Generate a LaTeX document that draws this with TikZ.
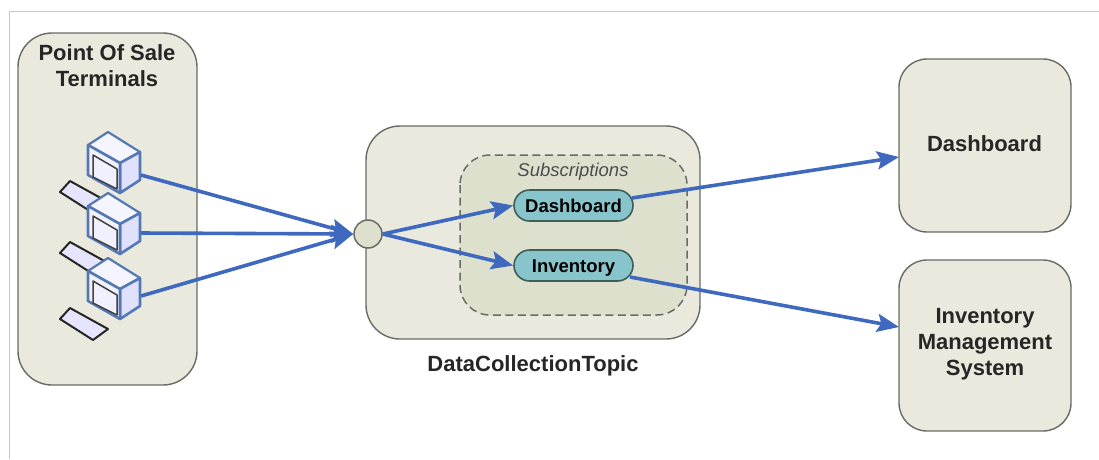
\documentclass[tikz,border=0pt]{standalone}
\usepackage{fontspec}
\setmainfont{Liberation Sans}
\usetikzlibrary{arrows.meta,shapes.misc}
\definecolor{panel}{RGB}{233,234,221}
\definecolor{subp}{RGB}{222,224,206}
\definecolor{edgegray}{RGB}{105,108,100}
\definecolor{pill}{RGB}{136,196,203}
\definecolor{pilledge}{RGB}{62,95,90}
\definecolor{arrowblue}{RGB}{62,105,190}
\definecolor{pcblue}{RGB}{84,120,180}
\definecolor{frameg}{RGB}{200,200,200}
\tikzset{
  panelbox/.style={draw=edgegray,line width=1.4pt,fill=panel,rounded corners=34pt,inner sep=0pt},
  pillbox/.style={rounded rectangle,draw=pilledge,line width=1.6pt,fill=pill,minimum width=119pt,minimum height=31pt,inner sep=0pt,text height=13.5pt,text depth=0pt,font=\fontsize{18.5}{20}\selectfont\bfseries},
  label/.style={font=\fontsize{22}{26}\selectfont\bfseries,align=center,text=black!85,inner sep=0pt},
  flow/.style={draw=arrowblue,line width=3.6pt,-{Stealth[length=22pt,width=18pt,inset=4pt]}}
}
\newcommand{\pcicon}[1]{%
  \begin{scope}[shift={(0,#1)}]
    \draw[pcblue,line width=2.2pt,line join=round,fill=blue!4!white] (88,145)--(108,132)--(140,152)--(120,163)--cycle;
    \draw[pcblue,line width=2.6pt,line join=round,fill=blue!12!white] (120,163)--(140,152)--(140,180)--(120,193)--cycle;
    \draw[pcblue,line width=2.6pt,line join=round,fill=blue!5!white] (88,145)--(120,163)--(120,193)--(88,175)--cycle;
    \draw[black!75,line width=1.5pt,line join=round,fill=blue!6!white] (93,155)--(117,169)--(117,189)--(93,177)--cycle;
  \end{scope}}
\newcommand{\kbicon}[1]{%
  \begin{scope}[shift={(0,#1)}]
  \draw[black!85,line width=2pt,line join=round,fill=blue!10!white] (60,319)--(70,308)--(108,329)--(93,340)--cycle;
  \end{scope}}
\begin{document}
\begin{tikzpicture}[x=1pt,y=-1pt]
\useasboundingbox (0,0) rectangle (1099,459);
\fill[white] (0,0) rectangle (1099,459);
\draw[frameg,line width=1.2pt] (9.5,459) -- (9.5,11.5) -- (1099,11.5);
% panels
\node[panelbox,minimum width=179pt,minimum height=352pt] (pos) at (107.5,209) {};
\node[panelbox,minimum width=334pt,minimum height=213pt] (topicbox) at (533,232.5) {};
\draw[edgegray,line width=1.5pt,dash pattern=on 8pt off 4.5pt,fill=subp,rounded corners=30pt] (460,155) rectangle (687,315);
\node[panelbox,rounded corners=28pt,minimum width=172pt,minimum height=173pt] (dashsys) at (985,145.5) {};
\node[panelbox,rounded corners=28pt,minimum width=172pt,minimum height=171pt] (invsys) at (985,345.5) {};
% texts
\node[label] (postext) at (107,66) {Point Of Sale\\Terminals};
\node[label] (dashtext) at (984.5,144) {Dashboard};
\node[label] (invtext) at (985,344) {Inventory\\Management\\System};
\node[label] (topictext) at (533,366) {DataCollectionTopic};
\node[inner sep=0pt,text=black!70,font=\fontsize{18.5}{20}\selectfont\itshape] (subtext) at (573,172) {Subscriptions};
% terminals
\kbicon{-127}
\pcicon{0}
\kbicon{-66}
\pcicon{61}
\kbicon{0}
\pcicon{126}
\coordinate (pc1) at (141,175);
\coordinate (pc2) at (141,233);
\coordinate (pc3) at (141,296);
% topic endpoint and subscriptions
\node[circle,draw=edgegray,line width=1.5pt,fill=subp,minimum size=28pt,inner sep=0pt] (topic) at (368,234) {};
\node[pillbox] (subdash) at (573.5,205.5) {Dashboard};
\node[pillbox] (subinv) at (573.5,265.5) {Inventory};
% connectors
\draw[flow] (pc1) -- (topic.west);
\draw[flow] (pc2) -- (topic.west);
\draw[flow] (pc3) -- (topic.west);
\draw[flow] (topic.east) -- (subdash.west);
\draw[flow] (topic.east) -- (subinv.west);
\coordinate (dashin) at (899,157);
\coordinate (invin) at (899,327);
\coordinate (dashout) at (632,198);
\coordinate (invout) at (630,277);
\draw[flow] (dashout) -- (dashin);
\draw[flow] (invout) -- (invin);
\end{tikzpicture}
\end{document}
